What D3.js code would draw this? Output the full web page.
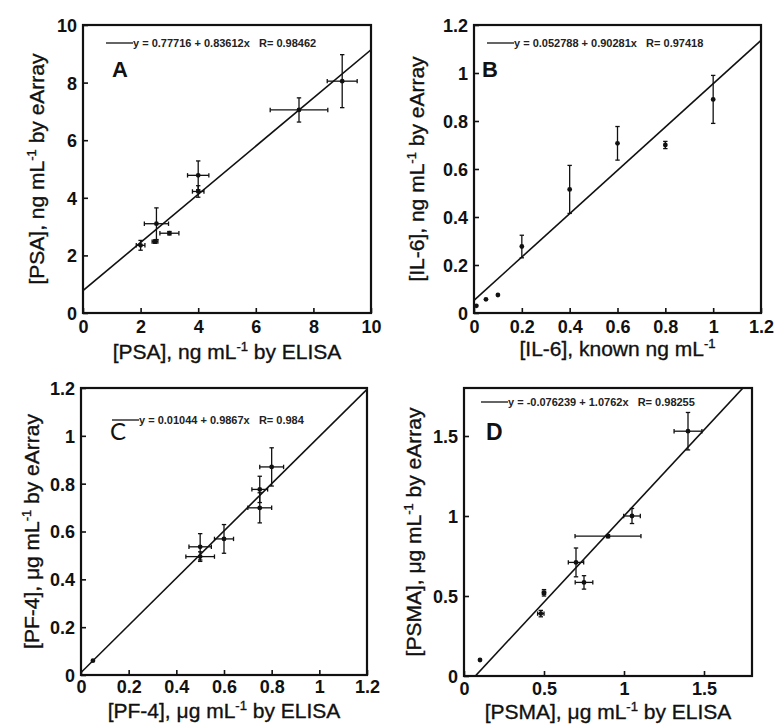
<!DOCTYPE html>
<html><head><meta charset="utf-8">
<script src="https://cdn.jsdelivr.net/npm/d3@7"></script>
<style>
body{margin:0;background:#fff;}
svg{display:block;font-family:"Liberation Sans",Arial,sans-serif;}
</style></head>
<body><svg id="c" width="778" height="727"></svg>
<script>
// ---- Data ----
// Panel A: PSA
const psaX    = [2, 2.5, 2.55, 3, 4, 4, 7.5, 9];
const psaY    = [2.35, 2.48, 3.1, 2.77, 4.78, 4.22, 7.05, 8.05];
const psaXErr = [0.15, 0.1, 0.42, 0.33, 0.37, 0.2, 1.0, 0.52];
const psaYErr = [0.17, 0.06, 0.55, 0.06, 0.5, 0.2, 0.42, 0.92];
// Panel B: IL-6
const il6X    = [0.01, 0.05, 0.1, 0.2, 0.4, 0.6, 0.8, 1.0];
const il6Y    = [0.03, 0.057, 0.075, 0.277, 0.515, 0.707, 0.70, 0.89];
const il6XErr = [0, 0, 0, 0, 0, 0, 0, 0];
const il6YErr = [0, 0, 0, 0.047, 0.10, 0.07, 0.015, 0.10];
// Panel C: PF-4
const pf4X    = [0.05, 0.5, 0.5, 0.6, 0.75, 0.75, 0.8];
const pf4Y    = [0.06, 0.536, 0.495, 0.569, 0.776, 0.699, 0.87];
const pf4XErr = [0, 0.047, 0.06, 0.04, 0.033, 0.05, 0.05];
const pf4YErr = [0, 0.055, 0.02, 0.06, 0.055, 0.063, 0.08];
// Panel D: PSMA
const psmaX    = [0.1, 0.48, 0.5, 0.7, 0.75, 0.9, 1.05, 1.4];
const psmaY    = [0.1, 0.39, 0.52, 0.71, 0.585, 0.874, 1.0, 1.53];
const psmaXErr = [0, 0.02, 0.01, 0.048, 0.055, 0.206, 0.052, 0.087];
const psmaYErr = [0, 0.02, 0.02, 0.09, 0.042, 0.01, 0.047, 0.117];
// Linear fits (from legends)
const fitIntercept = [0.77716, 0.052788, 0.01044, -0.076239];
const fitSlope     = [0.83612, 0.90281, 0.9867, 1.0762];
const fitInterceptLabel = ["0.77716", "0.052788", "0.01044", "-0.076239"];
const fitSlopeLabel     = ["0.83612", "0.90281", "0.9867", "1.0762"];
const fitRLabel         = ["0.98462", "0.97418", "0.984", "0.98255"];
// Ticks
const ticksA = [0, 2, 4, 6, 8, 10];
const ticksB = [0, 0.2, 0.4, 0.6, 0.8, 1, 1.2];
const ticksC = [0, 0.2, 0.4, 0.6, 0.8, 1, 1.2];
const ticksD = [0, 0.5, 1, 1.5];
const panelLetters = ["A", "B", "C", "D"];
const xTitles = [["[PSA], ng mL", "-1", " by ELISA"], ["[IL-6], known ng mL", "-1", ""], ["[PF-4], μg mL", "-1", " by ELISA"], ["[PSMA], μg mL", "-1", " by ELISA"]];
const yTitles = [["[PSA], ng mL", "-1", " by eArray"], ["[IL-6], ng mL", "-1", " by eArray"], ["[PF-4], μg mL", "-1", " by eArray"], ["[PSMA], μg mL", "-1", " by eArray"]];

// ---- Layout ----
const panels = [
  {x:83,  y:25,  w:288, h:288, xd:[0,10],  yd:[0,10],  ticks:ticksA, X:psaX, Y:psaY, XE:psaXErr, YE:psaYErr,
   letter:{dx:29, dy:52, size:22, weight:"bold"}, leg:{x:106, y:47}, ytx:37, xty:46, xpad:8},
  {x:474, y:25,  w:287, h:288, xd:[0,1.2], yd:[0,1.2], ticks:ticksB, X:il6X, Y:il6Y, XE:il6XErr, YE:il6YErr,
   letter:{dx:8, dy:52, size:22, weight:"bold"}, leg:{x:487, y:47}, ytx:417, xty:43, xpad:8},
  {x:81,  y:388, w:286, h:287, xd:[0,1.2], yd:[0,1.2], ticks:ticksC, X:pf4X, Y:pf4Y, XE:pf4XErr, YE:pf4YErr,
   letter:{dx:29, dy:52, size:24, weight:"normal"}, leg:{x:112, y:424}, ytx:32, xty:43, xpad:6},
  {x:464, y:388, w:288, h:288, xd:[0,1.8], yd:[0,1.8], ticks:ticksD, X:psmaX, Y:psmaY, XE:psmaXErr, YE:psmaYErr,
   letter:{dx:22, dy:52, size:23, weight:"bold"}, leg:{x:481, y:406}, ytx:414, xty:43, xpad:7}
];

const svg = d3.select("#c");
const fmt = d => String(+d.toFixed(2));
const TITLE = 21;

function addSup(sel, parts, size) {
  sel.append("tspan").text(parts[0]);
  sel.append("tspan").attr("font-size", size*0.62).attr("dy", -size*0.38).text(parts[1]);
  sel.append("tspan").attr("dy", size*0.38).text(parts[2]);
}

panels.forEach((p, i) => {
  const g = svg.append("g");
  const x = d3.scaleLinear().domain(p.xd).range([p.x, p.x + p.w]);
  const y = d3.scaleLinear().domain(p.yd).range([p.y + p.h, p.y]);

  // axes with inward ticks (left & bottom)
  const xa = g.append("g").attr("transform", `translate(0,${p.y + p.h})`)
    .call(d3.axisBottom(x).tickValues(p.ticks).tickFormat(fmt).tickSize(-5).tickPadding(p.xpad));
  const ya = g.append("g").attr("transform", `translate(${p.x},0)`)
    .call(d3.axisLeft(y).tickValues(p.ticks).tickFormat(fmt).tickSize(-5).tickPadding(6));
  [xa, ya].forEach(a => {
    a.select(".domain").remove();
    a.selectAll(".tick line").attr("stroke", "#111").attr("stroke-width", 1.6);
    a.selectAll(".tick text").attr("fill", "#111").attr("font-size", 18).attr("font-weight", "bold")
      .attr("font-family", "'Liberation Sans',Arial,sans-serif");
  });
  ya.selectAll(".tick text").attr("dy", "0.36em");
  xa.selectAll(".tick text").attr("dy", "0.68em");

  // clip
  const cid = "clip" + i;
  g.append("clipPath").attr("id", cid).append("rect").attr("x", p.x).attr("y", p.y).attr("width", p.w).attr("height", p.h);

  // fit line
  const x0 = p.xd[0], x1 = p.xd[1];
  g.append("line").attr("clip-path", `url(#${cid})`)
    .attr("x1", x(x0)).attr("y1", y(fitIntercept[i] + fitSlope[i]*x0))
    .attr("x2", x(x1)).attr("y2", y(fitIntercept[i] + fitSlope[i]*x1))
    .attr("stroke", "#111").attr("stroke-width", 1.6);

  // error bars and points
  const data = p.X.map((v, k) => ({x:v, y:p.Y[k], xe:p.XE[k], ye:p.YE[k]}));
  const eb = g.append("g").attr("stroke", "#111").attr("stroke-width", 1.3);
  const cap = 2.2;
  data.forEach(d => {
    if (d.xe > 0) {
      eb.append("line").attr("x1", x(d.x - d.xe)).attr("x2", x(d.x + d.xe)).attr("y1", y(d.y)).attr("y2", y(d.y));
      eb.append("line").attr("x1", x(d.x - d.xe)).attr("x2", x(d.x - d.xe)).attr("y1", y(d.y)-cap).attr("y2", y(d.y)+cap);
      eb.append("line").attr("x1", x(d.x + d.xe)).attr("x2", x(d.x + d.xe)).attr("y1", y(d.y)-cap).attr("y2", y(d.y)+cap);
    }
    if (d.ye > 0) {
      eb.append("line").attr("x1", x(d.x)).attr("x2", x(d.x)).attr("y1", y(d.y - d.ye)).attr("y2", y(d.y + d.ye));
      eb.append("line").attr("x1", x(d.x)-cap).attr("x2", x(d.x)+cap).attr("y1", y(d.y - d.ye)).attr("y2", y(d.y - d.ye));
      eb.append("line").attr("x1", x(d.x)-cap).attr("x2", x(d.x)+cap).attr("y1", y(d.y + d.ye)).attr("y2", y(d.y + d.ye));
    }
  });
  g.append("g").selectAll("circle").data(data).join("circle")
    .attr("cx", d => x(d.x)).attr("cy", d => y(d.y)).attr("r", 2.4).attr("fill", "#111");

  // frame
  g.append("rect").attr("x", p.x).attr("y", p.y).attr("width", p.w).attr("height", p.h)
    .attr("fill", "none").attr("stroke", "#111").attr("stroke-width", 2.2);

  // legend
  g.append("line").attr("x1", p.leg.x).attr("x2", p.leg.x + 27).attr("y1", p.leg.y - 4).attr("y2", p.leg.y - 4)
    .attr("stroke", "#111").attr("stroke-width", 1.3);
  g.append("text").attr("x", p.leg.x + 27).attr("y", p.leg.y)
    .attr("font-size", 11).attr("font-weight", "bold").attr("fill", "#222")
    .attr("xml:space", "preserve")
    .text(`y = ${fitInterceptLabel[i]} + ${fitSlopeLabel[i]}x   R= ${fitRLabel[i]}`);

  // panel letter
  g.append("text").attr("x", p.x + p.letter.dx).attr("y", p.y + p.letter.dy)
    .attr("font-size", p.letter.size).attr("font-weight", p.letter.weight).attr("fill", "#111")
    .attr("font-family", p.letter.weight === "normal" ? "Lato,'Open Sans',sans-serif" : null)
    .text(panelLetters[i]);

  // axis titles
  const xt = g.append("text").attr("x", p.x + p.w/2).attr("y", p.y + p.h + p.xty)
    .attr("text-anchor", "middle").attr("font-size", TITLE).attr("fill", "#111")
    .attr("stroke", "#111").attr("stroke-width", 0.35);
  addSup(xt, xTitles[i], TITLE);
  const yt = g.append("text").attr("transform", `translate(${p.ytx},${p.y + p.h/2}) rotate(-90)`)
    .attr("text-anchor", "middle").attr("dy", "0.35em").attr("font-size", TITLE).attr("fill", "#111")
    .attr("stroke", "#111").attr("stroke-width", 0.35);
  addSup(yt, yTitles[i], TITLE);
});
</script></body></html>
